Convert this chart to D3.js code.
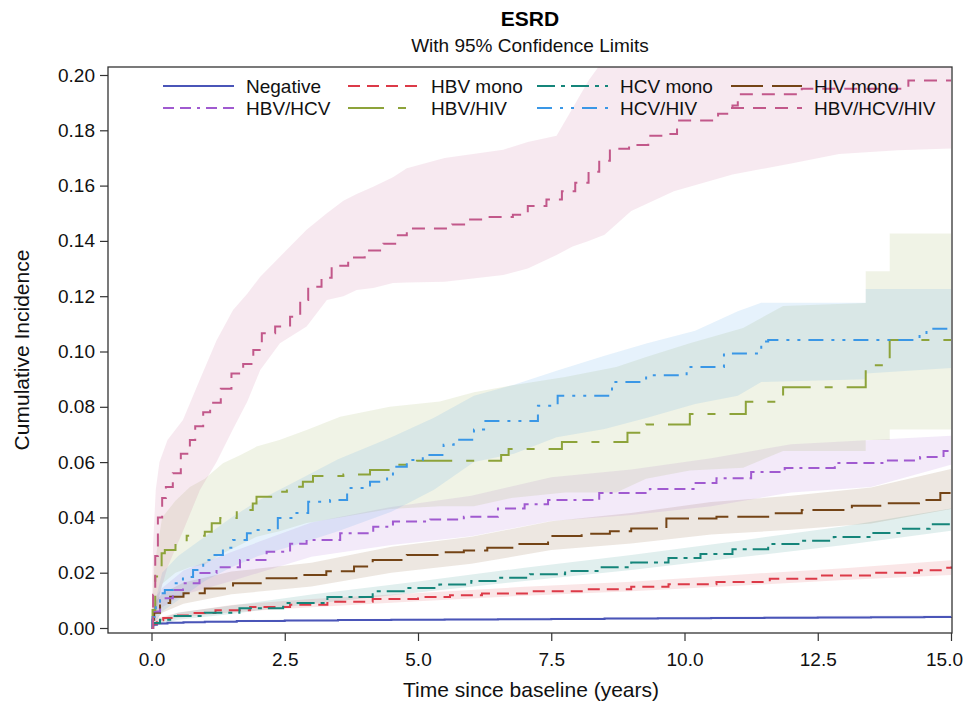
<!DOCTYPE html>
<html>
<head>
<meta charset="utf-8">
<script src="https://cdn.jsdelivr.net/npm/d3@7"></script>
<style>
  body { margin: 0; background: #fff; }
  text { font-family: "Liberation Sans", Arial, Helvetica, sans-serif; }
</style>
</head>
<body>
<svg id="chart" width="964" height="706"></svg>
<script>
// ---- Group names and axis ticks ----
const groups = ["Negative", "HBV mono", "HCV mono", "HIV mono",
                "HBV/HCV", "HBV/HIV", "HCV/HIV", "HBV/HCV/HIV"];
const xTicks = [0, 2.5, 5, 7.5, 10, 12.5, 15];
const yTicks = [0, 0.02, 0.04, 0.06, 0.08, 0.10, 0.12, 0.14, 0.16, 0.18, 0.20];

// ---- Cumulative incidence estimates (step functions: time in years, value) ----
const negT   = [0, 0.03, 0.1, 0.3, 0.6, 1.0, 1.6, 2.5, 3.5, 4.5, 5.5, 6.5, 7.5, 8.5, 9.5, 10.5, 11.5, 12.5, 13.5, 14.5, 15];
const negEst = [0, 0.0012, 0.0016, 0.0019, 0.0021, 0.0023, 0.0025, 0.0027, 0.0029, 0.0030, 0.0031, 0.0032, 0.0033, 0.0034, 0.0035, 0.0036, 0.0037, 0.0038, 0.0039, 0.0040, 0.0041];

const hbvT   = [0, 0.03, 0.1, 0.22, 0.4, 0.7, 1.2, 1.85, 2.6, 3.3, 4.15, 5.0, 5.6, 6.2, 7.1, 8.1, 9.0, 9.7, 10.6, 11.6, 12.5, 13.5, 14.4, 14.9, 15];
const hbvEst = [0, 0.0015, 0.0028, 0.0036, 0.0045, 0.0054, 0.0064, 0.0076, 0.0084, 0.0095, 0.0105, 0.0112, 0.0118, 0.0125, 0.0133, 0.0140, 0.0149, 0.0158, 0.0166, 0.0178, 0.0190, 0.0200, 0.0209, 0.0218, 0.0222];

const hcvT   = [0, 0.03, 0.16, 0.4, 1.0, 1.65, 2.47, 3.3, 4.15, 4.8, 5.4, 6.0, 6.5, 7.1, 7.76, 8.4, 9.0, 9.7, 10.3, 10.9, 11.57, 12.2, 12.8, 13.5, 14.1, 14.6, 15];
const hcvEst = [0, 0.0018, 0.0030, 0.0043, 0.0055, 0.0071, 0.0090, 0.0112, 0.0133, 0.0145, 0.0157, 0.0170, 0.0182, 0.0194, 0.0206, 0.0220, 0.0237, 0.0253, 0.0268, 0.0285, 0.0304, 0.0316, 0.0329, 0.0344, 0.0359, 0.0375, 0.0392];

const hivT   = [0, 0.02, 0.05, 0.16, 0.35, 0.6, 1.0, 1.53, 2.16, 2.72, 3.28, 3.8, 4.15, 4.79, 5.41, 5.86, 6.3, 6.8, 7.44, 8.07, 8.6, 9.0, 9.66, 10.6, 11.57, 12.2, 13.14, 13.78, 14.4, 14.8, 15];
const hivEst = [0, 0.0030, 0.0055, 0.0090, 0.0113, 0.0126, 0.0143, 0.0162, 0.0180, 0.0192, 0.0205, 0.0222, 0.0246, 0.0264, 0.0274, 0.0280, 0.0290, 0.0304, 0.0333, 0.0341, 0.0350, 0.0360, 0.0396, 0.0402, 0.0415, 0.0427, 0.0442, 0.0451, 0.0463, 0.0488, 0.0500];

const hbvHcvT   = [0, 0.01, 0.03, 0.16, 0.4, 0.59, 0.9, 1.22, 1.66, 2.16, 2.6, 2.91, 3.54, 4.16, 4.53, 5.23, 5.86, 6.5, 7.0, 7.44, 8.4, 9.35, 10.17, 10.6, 11.25, 11.88, 12.82, 13.78, 14.42, 14.86, 15];
const hbvHcvEst = [0, 0.0030, 0.0060, 0.0108, 0.0137, 0.0162, 0.0199, 0.0220, 0.0246, 0.0276, 0.0305, 0.0318, 0.0343, 0.0366, 0.0385, 0.0392, 0.0402, 0.0432, 0.0448, 0.0463, 0.0488, 0.0503, 0.0524, 0.0542, 0.0564, 0.0579, 0.0597, 0.0606, 0.0618, 0.0640, 0.0647];

const hbvHivT   = [0, 0.02, 0.07, 0.19, 0.25, 0.45, 0.66, 1.0, 1.13, 1.29, 1.6, 1.9, 1.97, 2.28, 2.54, 2.84, 3.03, 3.6, 4.1, 4.47, 4.98, 6.56, 6.7, 7.7, 8.93, 9.28, 10.1, 11.15, 11.85, 13.4, 13.85, 15];
const hbvHivEst = [0, 0.0065, 0.0186, 0.0270, 0.0282, 0.0312, 0.0334, 0.0348, 0.0379, 0.0398, 0.0427, 0.0450, 0.0475, 0.0493, 0.0511, 0.0529, 0.0550, 0.0555, 0.0571, 0.0590, 0.0605, 0.0626, 0.0647, 0.0673, 0.0706, 0.0736, 0.0774, 0.0818, 0.0871, 0.0950, 0.1042, 0.1042];

const hcvHivT   = [0, 0.02, 0.08, 0.16, 0.25, 0.4, 0.59, 0.78, 0.97, 1.15, 1.34, 1.53, 1.79, 1.9, 2.37, 2.66, 2.94, 3.35, 3.67, 4.1, 4.42, 4.53, 4.79, 5.09, 5.48, 5.67, 6.05, 6.24, 7.25, 7.62, 8.64, 9.28, 10.04, 10.74, 11.44, 11.57, 14.41, 14.54, 15];
const hcvHivEst = [0, 0.0040, 0.0090, 0.0126, 0.0137, 0.0162, 0.0184, 0.0210, 0.0246, 0.0264, 0.0290, 0.0318, 0.0343, 0.0354, 0.0398, 0.0416, 0.0457, 0.0463, 0.0506, 0.0529, 0.0547, 0.0583, 0.0608, 0.0626, 0.0663, 0.0681, 0.0718, 0.0749, 0.0804, 0.0840, 0.0890, 0.0914, 0.0944, 0.0993, 0.1036, 0.1042, 0.1060, 0.1082, 0.1085];

const tripleT   = [0, 0.03, 0.07, 0.12, 0.2, 0.27, 0.4, 0.55, 0.72, 0.82, 0.97, 1.1, 1.3, 1.5, 1.72, 1.91, 2.07, 2.32, 2.6, 2.79, 2.94, 3.19, 3.38, 3.69, 4.0, 4.35, 4.6, 4.79, 5.64, 5.92, 6.3, 6.78, 7.06, 7.41, 7.7, 7.95, 8.2, 8.4, 8.6, 8.96, 9.32, 9.69, 9.86, 10.63, 10.9, 11.0, 12.2, 14.2, 15];
const tripleEst = [0, 0.012, 0.026, 0.040, 0.047, 0.051, 0.056, 0.063, 0.068, 0.073, 0.078, 0.0815, 0.0865, 0.092, 0.0955, 0.1005, 0.1066, 0.109, 0.1126, 0.1186, 0.1234, 0.1267, 0.131, 0.134, 0.1365, 0.139, 0.142, 0.1445, 0.1459, 0.1477, 0.1486, 0.1495, 0.1526, 0.155, 0.158, 0.161, 0.165, 0.169, 0.1733, 0.1747, 0.178, 0.1787, 0.1835, 0.186, 0.189, 0.193, 0.195, 0.198, 0.198];

// ---- 95% confidence limits (time, lower, upper); repeated times mark jumps ----
const negBandT = [0, 0.1, 1, 3, 6, 9, 12, 15];
const negLo    = [0, 0.0012, 0.0019, 0.0024, 0.0027, 0.0030, 0.0033, 0.0036];
const negHi    = [0, 0.0020, 0.0027, 0.0032, 0.0035, 0.0039, 0.0043, 0.0046];

const hbvBandT = [0, 0.1, 0.5, 1.5, 3, 5, 7, 9, 11, 13, 15];
const hbvLo    = [0, 0.0020, 0.0037, 0.0057, 0.0075, 0.0097, 0.0117, 0.0133, 0.0153, 0.0174, 0.0192];
const hbvHi    = [0, 0.0036, 0.0055, 0.0083, 0.0105, 0.0127, 0.0149, 0.0167, 0.0193, 0.0216, 0.0245];

const hcvBandT = [0, 0.1, 0.5, 1.5, 3, 5, 7, 9, 11, 13, 15];
const hcvLo    = [0, 0.0008, 0.0030, 0.0051, 0.0087, 0.0128, 0.0170, 0.0210, 0.0255, 0.0300, 0.0352];
const hcvHi    = [0, 0.0028, 0.0056, 0.0081, 0.0121, 0.0168, 0.0218, 0.0264, 0.0315, 0.0368, 0.0432];

const hivBandT = [0, 0.05, 0.2, 0.6, 1.5, 3, 4.5, 6, 7.5, 9, 10.5, 12, 13.5, 15];
const hivLo    = [0, 0.0020, 0.0055, 0.0088, 0.0122, 0.0150, 0.0200, 0.0232, 0.0282, 0.0306, 0.0338, 0.0355, 0.0378, 0.0430];
const hivHi    = [0, 0.0090, 0.0125, 0.0165, 0.0204, 0.0236, 0.0294, 0.0330, 0.0386, 0.0416, 0.0456, 0.0478, 0.0508, 0.0575];

const hbvHcvBandT = [0, 0.03, 0.2, 0.6, 1.5, 3, 4.5, 6, 7.5, 9, 10.5, 12, 13.5, 15];
const hbvHcvLo    = [0, 0.0030, 0.0075, 0.0120, 0.0170, 0.0258, 0.0300, 0.0332, 0.0387, 0.0409, 0.0440, 0.0490, 0.0510, 0.0590];
const hbvHcvHi    = [0, 0.0100, 0.0145, 0.0208, 0.0275, 0.0382, 0.0438, 0.0478, 0.0545, 0.0573, 0.0614, 0.0665, 0.0680, 0.0695];

const hbvHivBandT = [0, 0.05, 0.2, 0.45, 0.72, 1.0, 1.34, 1.66, 1.97, 2.4, 2.91, 3.54, 4.47, 5.41, 6.05, 6.75, 7.76, 8.72, 9.28, 10.1, 11.1, 11.85, 13.4, 13.4, 13.85, 13.85, 15];
const hbvHivLo    = [0, 0.002, 0.016, 0.020, 0.022, 0.023, 0.027, 0.030, 0.033, 0.035, 0.038, 0.040, 0.043, 0.044, 0.044, 0.047, 0.049, 0.049, 0.054, 0.057, 0.058, 0.064, 0.064, 0.068, 0.068, 0.0718, 0.0718];
const hbvHivHi    = [0, 0.022, 0.040, 0.046, 0.051, 0.054, 0.0596, 0.0625, 0.0656, 0.068, 0.0716, 0.0764, 0.080, 0.0819, 0.0853, 0.0877, 0.0908, 0.0944, 0.098, 0.103, 0.1085, 0.1165, 0.1175, 0.129, 0.129, 0.1427, 0.1427];

const hcvHivBandT = [0, 0.05, 0.2, 0.5, 1.0, 1.5, 2.0, 2.7, 3.5, 4.5, 5.3, 6.05, 6.8, 7.6, 8.5, 9.3, 10.2, 11.0, 11.44, 13.4, 13.4, 15];
const hcvHivLo    = [0, 0.001, 0.006, 0.010, 0.017, 0.022, 0.026, 0.030, 0.035, 0.042, 0.050, 0.060, 0.063, 0.069, 0.072, 0.076, 0.081, 0.084, 0.089, 0.090, 0.092, 0.094];
const hcvHivHi    = [0, 0.008, 0.020, 0.026, 0.033, 0.040, 0.046, 0.053, 0.061, 0.069, 0.076, 0.084, 0.088, 0.093, 0.0985, 0.103, 0.1075, 0.1146, 0.1176, 0.1176, 0.1226, 0.1226];

const tripleBandT = [0, 0.03, 0.08, 0.15, 0.3, 0.59, 0.91, 1.22, 1.53, 1.8, 2.04, 2.41, 2.91, 3.29, 3.6, 3.85, 4.16, 4.53, 4.79, 5.5, 6.6, 7.06, 7.6, 7.9, 8.2, 8.5, 9.0, 9.8, 10.9, 12.0, 12.9, 14.0, 15];
const tripleLo    = [0, 0.002, 0.006, 0.012, 0.022, 0.035, 0.050, 0.060, 0.072, 0.082, 0.0933, 0.103, 0.109, 0.1186, 0.120, 0.1222, 0.123, 0.1248, 0.125, 0.1252, 0.1277, 0.130, 0.1349, 0.138, 0.140, 0.1422, 0.1508, 0.158, 0.164, 0.168, 0.1714, 0.1728, 0.1734];
const tripleHi    = [0, 0.030, 0.050, 0.060, 0.068, 0.0752, 0.090, 0.104, 0.115, 0.121, 0.127, 0.1343, 0.144, 0.150, 0.1545, 0.157, 0.1596, 0.163, 0.1663, 0.170, 0.173, 0.1758, 0.178, 0.188, 0.198, 0.206, 0.206, 0.206, 0.206, 0.206, 0.206, 0.206, 0.206];

// ---- Styling per group ----
const colors = ["#4a55b8", "#dc3a48", "#15857a", "#744416",
                "#a05ad0", "#8da33a", "#3a97e6", "#c2588a"];
const dashes = ["", "12,7", "18,6,4,6", "32,9",
                "11,6,11,6,3,6", "36,14,8,14", "15,8,3,8,3,8", "13,9"];

const zip = (t, v) => t.map((d, i) => ({ t: d, v: v[i] }));
const zipBand = (t, lo, hi) => t.map((d, i) => ({ t: d, lo: lo[i], hi: hi[i] }));

const series = [
  { est: zip(negT, negEst),         band: zipBand(negBandT, negLo, negHi) },
  { est: zip(hbvT, hbvEst),         band: zipBand(hbvBandT, hbvLo, hbvHi) },
  { est: zip(hcvT, hcvEst),         band: zipBand(hcvBandT, hcvLo, hcvHi) },
  { est: zip(hivT, hivEst),         band: zipBand(hivBandT, hivLo, hivHi) },
  { est: zip(hbvHcvT, hbvHcvEst),   band: zipBand(hbvHcvBandT, hbvHcvLo, hbvHcvHi) },
  { est: zip(hbvHivT, hbvHivEst),   band: zipBand(hbvHivBandT, hbvHivLo, hbvHivHi) },
  { est: zip(hcvHivT, hcvHivEst),   band: zipBand(hcvHivBandT, hcvHivLo, hcvHivHi) },
  { est: zip(tripleT, tripleEst),   band: zipBand(tripleBandT, tripleLo, tripleHi) }
].map((s, i) => ({ ...s, name: groups[i], color: colors[i], dash: dashes[i] }));

// ---- Layout ----
const W = 964, H = 706;
const svg = d3.select("#chart");
const frame = { left: 108, right: 952, top: 67, bottom: 633 };
const x = d3.scaleLinear().domain([0, 15]).range([151.5, 951]);
const y = d3.scaleLinear().domain([0, 0.2]).range([628, 75]);

svg.append("rect").attr("width", W).attr("height", H).attr("fill", "#fff");

svg.append("defs").append("clipPath").attr("id", "plotClip")
  .append("rect")
  .attr("x", frame.left).attr("y", frame.top)
  .attr("width", frame.right - frame.left).attr("height", frame.bottom - frame.top);

const plot = svg.append("g").attr("clip-path", "url(#plotClip)");

// Confidence bands
const area = d3.area()
  .curve(d3.curveLinear)
  .x(d => x(d.t)).y0(d => y(d.lo)).y1(d => y(d.hi));

plot.selectAll("path.band").data(series).join("path")
  .attr("class", "band")
  .attr("d", d => area(d.band))
  .attr("fill", d => d.color)
  .attr("fill-opacity", 0.13)
  .attr("stroke", "none");

// Estimate step lines
const line = d3.line()
  .curve(d3.curveStepAfter)
  .x(d => x(d.t)).y(d => y(d.v));

plot.selectAll("path.est").data(series).join("path")
  .attr("class", "est")
  .attr("d", d => line(d.est))
  .attr("fill", "none")
  .attr("stroke", d => d.color)
  .attr("stroke-width", 2)
  .attr("stroke-dasharray", d => d.dash || null);

// Axes
const yAxis = svg.append("g")
  .attr("transform", `translate(${frame.left},0)`)
  .call(d3.axisLeft(y).tickValues(yTicks).tickFormat(d3.format(".2f")).tickSize(8).tickPadding(5));
const xAxis = svg.append("g")
  .attr("transform", `translate(0,${frame.bottom})`)
  .call(d3.axisBottom(x).tickValues(xTicks).tickFormat(d3.format(".1f")).tickSize(8).tickPadding(12));

[yAxis, xAxis].forEach(g => {
  g.select(".domain").remove();
  g.selectAll(".tick line").attr("stroke", "#333").attr("stroke-width", 1.2);
  g.selectAll(".tick text").attr("fill", "#111").style("font-size", "19px")
    .style("font-family", "'Liberation Sans', Arial, sans-serif");
});

// Keep the outermost tick label inside the page
xAxis.selectAll(".tick text").each(function () {
  const box = this.getBBox();
  const tr = this.parentNode.transform.baseVal.consolidate().matrix.e;
  const overflow = tr + box.x + box.width - (W - 1);
  if (overflow > 0) d3.select(this).attr("x", -overflow);
});

// Plot frame
svg.append("rect")
  .attr("x", frame.left).attr("y", frame.top)
  .attr("width", frame.right - frame.left).attr("height", frame.bottom - frame.top)
  .attr("fill", "none").attr("stroke", "#333").attr("stroke-width", 1.3);

// Titles and axis labels
svg.append("text").attr("x", 530).attr("y", 26).attr("text-anchor", "middle")
  .style("font-size", "21px").style("font-weight", "bold").attr("fill", "#000").text("ESRD");
svg.append("text").attr("x", 530).attr("y", 52).attr("text-anchor", "middle")
  .style("font-size", "19px").attr("fill", "#111").text("With 95% Confidence Limits");
svg.append("text").attr("x", 531).attr("y", 697).attr("text-anchor", "middle")
  .style("font-size", "21px").attr("fill", "#111").text("Time since baseline (years)");
svg.append("text")
  .attr("transform", `translate(29,${(frame.top + frame.bottom) / 2}) rotate(-90)`)
  .attr("text-anchor", "middle")
  .style("font-size", "21px").attr("fill", "#111").text("Cumulative Incidence");

// Legend (two rows, four columns)
const legendCols = [163, 348, 537, 731];
const legendRows = [86, 108];
const legend = svg.append("g");
series.forEach((s, i) => {
  const cx = legendCols[i % 4], cy = legendRows[Math.floor(i / 4)];
  legend.append("line")
    .attr("x1", cx).attr("x2", cx + 71).attr("y1", cy).attr("y2", cy)
    .attr("stroke", s.color).attr("stroke-width", 2)
    .attr("stroke-dasharray", s.dash || null);
  legend.append("text")
    .attr("x", cx + 83).attr("y", cy).attr("dy", "0.35em")
    .style("font-size", "19px").attr("fill", "#111").text(s.name);
});
</script>
</body>
</html>
